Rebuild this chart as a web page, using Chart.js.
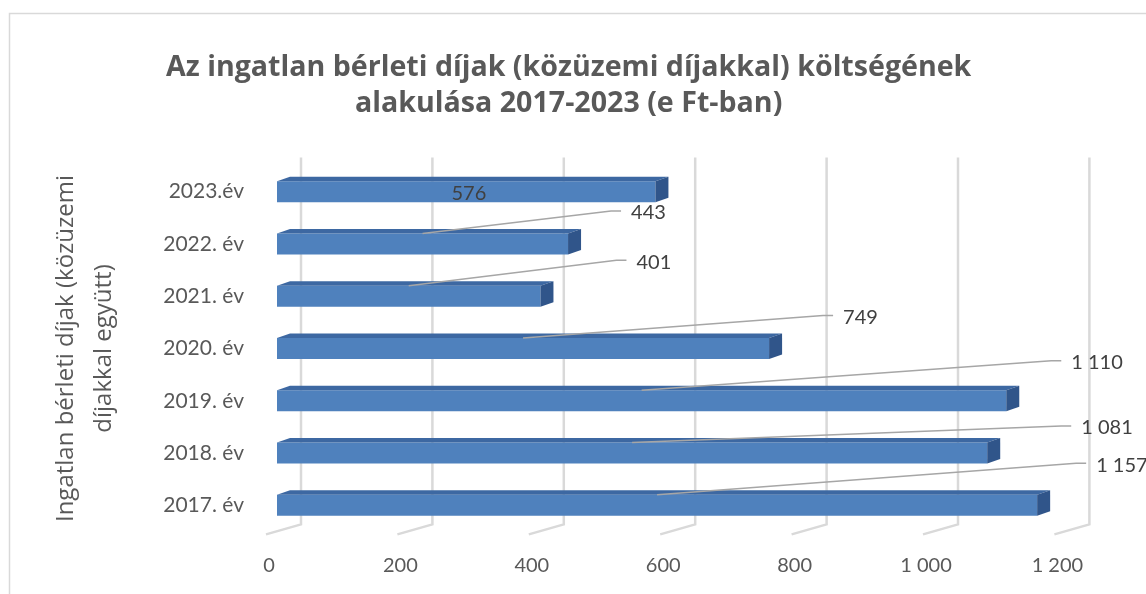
<!DOCTYPE html>
<html><head><meta charset="utf-8">
<script src="https://cdn.jsdelivr.net/npm/chart.js@4.4.1/dist/chart.umd.min.js"></script>
<style>html,body{margin:0;padding:0;background:#fff;overflow:hidden}#wrap{width:1146px;height:594px}</style>
</head><body><div id="wrap"><canvas id="c" width="1146" height="594"></canvas></div>
<script>
// ---- data ----
const categories = ['2023.év', '2022. év', '2021. év', '2020. év', '2019. év', '2018. év', '2017. év'];
const values = [576, 443, 401, 749, 1110, 1081, 1157];
const xMin = 0;
const xMax = 1200;
const xStep = 200;
const titleLines = ['Az ingatlan bérleti díjak (közüzemi díjakkal) költségének', 'alakulása 2017-2023 (e Ft-ban)'];
const axisTitleLines = ['Ingatlan bérleti díjak (közüzemi', 'díjakkal együtt)'];

// ---- label placement (pixel offsets of label from bar end / bar centre) ----
const labelPlacement = [[-204, 2], [63, -31], [96, -34], [74, -31], [65, -38], [94, -25], [59, -40]];

const fmt = v => String(v).replace(/\B(?=(\d{3})+(?!\d))/g, ' ');
const GREY = '#595959';
const FONT = 'Lato';
const depth = { dx: 13, dy: 4.5 };

const bar3d = {
  id: 'bar3d',
  beforeDraw(chart) {
    const ctx = chart.ctx;
    ctx.save();
    ctx.fillStyle = '#fff';
    ctx.fillRect(0, 0, chart.width, chart.height);
    ctx.strokeStyle = '#d9d9d9';
    ctx.lineWidth = 1.5;
    ctx.strokeRect(9.5, 13.5, 1400, 800);
    ctx.restore();
  },
  beforeDatasetsDraw(chart) {
    const { ctx, chartArea: a, scales: { x } } = chart;
    ctx.save();
    ctx.strokeStyle = '#d9d9d9';
    ctx.lineWidth = 2.5;
    x.ticks.forEach(t => {
      const px = x.getPixelForValue(t.value);
      ctx.beginPath();
      ctx.moveTo(px + 24, a.top - 8);
      ctx.lineTo(px + 24, a.bottom - 7);
      ctx.lineTo(px - 11, a.bottom + 3);
      ctx.stroke();
    });
    ctx.restore();
  },
  afterDatasetsDraw(chart) {
    const ctx = chart.ctx;
    const meta = chart.getDatasetMeta(0);
    ctx.save();
    meta.data.forEach((bar, i) => {
      const { x, y, base, height } = bar.getProps(['x', 'y', 'base', 'height'], true);
      const top = y - height / 2, bot = y + height / 2;
      // top face
      ctx.fillStyle = '#3d68a2';
      ctx.beginPath();
      ctx.moveTo(base, top);
      ctx.lineTo(base + depth.dx, top - depth.dy);
      ctx.lineTo(x + depth.dx, top - depth.dy);
      ctx.lineTo(x, top);
      ctx.closePath();
      ctx.fill();
      // side face
      ctx.fillStyle = '#30558a';
      ctx.beginPath();
      ctx.moveTo(x, top);
      ctx.lineTo(x + depth.dx, top - depth.dy);
      ctx.lineTo(x + depth.dx, bot - depth.dy);
      ctx.lineTo(x, bot);
      ctx.closePath();
      ctx.fill();
    });
    // labels with leader lines
    meta.data.forEach((bar, i) => {
      const { x, y, base, height } = bar.getProps(['x', 'y', 'base', 'height'], true);
      const top = y - height / 2;
      const [ox, oy] = labelPlacement[i];
      const tx = x + ox, ty = y + oy;
      if (ox > 0) {
        ctx.strokeStyle = '#a6a6a6';
        ctx.lineWidth = 1.5;
        ctx.beginPath();
        ctx.moveTo((base + x) / 2, top);
        ctx.lineTo(tx - 20, ty - 2);
        ctx.lineTo(tx - 10, ty - 2);
        ctx.stroke();
      }
      ctx.font = '20px ' + FONT;
      ctx.fillStyle = '#404040';
      ctx.textAlign = 'left';
      ctx.textBaseline = 'middle';
      ctx.fillText(fmt(values[i]), tx, ty);
    });
    ctx.restore();
  }
};

new Chart(document.getElementById('c'), {
  type: 'bar',
  data: {
    labels: categories,
    datasets: [{
      data: values,
      backgroundColor: '#4f81bd',
      borderWidth: 0,
      barPercentage: 0.40,
      categoryPercentage: 1.0
    }]
  },
  options: {
    indexAxis: 'y',
    responsive: false,
    maintainAspectRatio: false,
    devicePixelRatio: 1,
    animation: false,
    layout: { padding: { left: 72, right: 80.6, top: 0, bottom: 0 } },
    plugins: {
      legend: { display: false },
      tooltip: { enabled: false },
      title: {
        display: true,
        text: titleLines,
        color: GREY,
        font: { family: 'Open Sans', size: 28.6, weight: 'bold', lineHeight: 36 / 28.6 },
        padding: { top: 50, bottom: 43.6 }
      }
    },
    scales: {
      x: {
        min: xMin, max: xMax,
        grid: { display: false, drawTicks: false },
        border: { display: false },
        ticks: {
          stepSize: xStep,
          color: GREY,
          font: { family: FONT, size: 20 },
          padding: 22,
          labelOffset: -8,
          callback: v => fmt(v)
        },
        afterFit(s) { s.height = 62.6; }
      },
      y: {
        grid: { display: false, drawTicks: false },
        border: { display: false },
        ticks: { color: GREY, font: { family: FONT, size: 21 }, padding: 33 },
        title: {
          display: true,
          text: axisTitleLines,
          color: GREY,
          font: { family: 'Open Sans', size: 24, lineHeight: 37.3 / 24 },
          padding: { top: -24, bottom: 0 }
        },
        afterFit(s) { s.width = 205; }
      }
    }
  },
  plugins: [bar3d]
});
</script>
</body></html>
